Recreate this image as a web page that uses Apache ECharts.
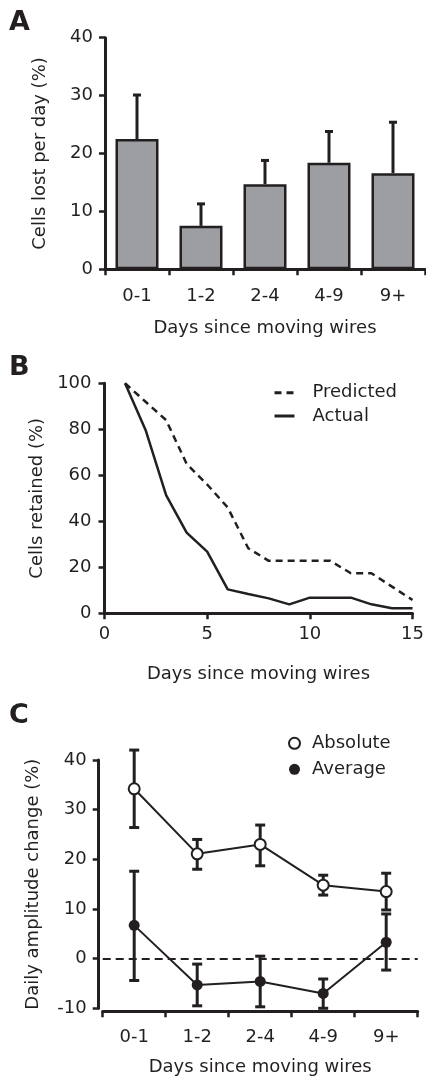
<!DOCTYPE html>
<html>
<head>
<meta charset="utf-8">
<script src="https://cdn.jsdelivr.net/npm/echarts@6/dist/echarts.min.js"></script>
<style>
html,body{margin:0;padding:0;background:#fff;}
#chart{width:426px;height:1079px;}
</style>
</head>
<body>
<div id="chart"></div>
<script>
// ---- Panel A data ----
const binCats = ['0-1', '1-2', '2-4', '4-9', '9+'];
const lostMean = [22.5, 7.5, 14.7, 18.4, 16.6];
const lostUpper = [30.1, 11.3, 18.8, 23.8, 25.4];
const ticksA = [0, 10, 20, 30, 40];

// ---- Panel B data ----
const daysB = [1, 2, 3, 4, 5, 6, 7, 8, 9, 10, 11, 12, 13, 14, 15];
const predicted = [100, 92, 84, 65, 56, 46, 28.3, 22.8, 22.8, 22.8, 22.8, 17.4, 17.4, 11.6, 5.8];
const actual = [100, 79.7, 51.4, 35.1, 26.8, 10.4, 8.4, 6.5, 3.9, 6.8, 6.8, 6.8, 3.9, 2.2, 2.2];

// ---- Panel C data ----
const absMean = [34.2, 21.1, 23.0, 14.8, 13.5];
const absUpper = [42.0, 24.0, 26.9, 16.8, 17.2];
const absLower = [26.4, 18.0, 18.7, 12.8, 9.8];
const avgMean = [6.7, -5.3, -4.6, -7.0, 3.3];
const avgUpper = [17.6, -1.1, 0.5, -4.1, 9.0];
const avgLower = [-4.4, -9.5, -9.7, -10.0, -2.3];

const INK = '#231f20';
const FONT = 'DejaVu Sans';
const FS = 18;

function axisBase(extra) {
  return Object.assign({
    axisLine: { show: true, onZero: false, lineStyle: { color: INK, width: 3 } },
    axisTick: { show: true, length: 6, lineStyle: { color: INK, width: 2.5 } },
    splitLine: { show: false },
    axisLabel: { color: INK, fontSize: FS, fontFamily: FONT },
    nameTextStyle: { color: INK, fontSize: FS, fontFamily: FONT },
    nameLocation: 'middle'
  }, extra);
}

function errRender(capW, lw, withLower) {
  return function (params, api) {
    const x = api.value(0);
    const lo = api.coord([x, api.value(1)]);
    const hi = api.coord([x, api.value(2)]);
    const style = { stroke: INK, lineWidth: lw, fill: null };
    const children = [
      { type: 'line', shape: { x1: lo[0], y1: lo[1], x2: hi[0], y2: hi[1] }, style: style },
      { type: 'line', shape: { x1: hi[0] - capW / 2, y1: hi[1], x2: hi[0] + capW / 2, y2: hi[1] }, style: style }
    ];
    if (withLower) {
      children.push({ type: 'line', shape: { x1: lo[0] - capW / 2, y1: lo[1], x2: lo[0] + capW / 2, y2: lo[1] }, style: style });
    }
    return { type: 'group', children: children };
  };
}

const chart = echarts.init(document.getElementById('chart'), null, { renderer: 'canvas' });

const option = {
  animation: false,
  backgroundColor: '#ffffff',
  textStyle: { fontFamily: FONT, color: INK },
  graphic: [
    { type: 'text', left: 9, top: 9, style: { text: 'A', font: 'bold 27px "DejaVu Sans"', fill: INK } },
    { type: 'text', left: 9, top: 354, style: { text: 'B', font: 'bold 27px "DejaVu Sans"', fill: INK } },
    { type: 'text', left: 9, top: 702, style: { text: 'C', font: 'bold 27px "DejaVu Sans"', fill: INK } }
  ],
  grid: [
    { left: 105, top: 37.7, width: 320, height: 231.6, outerBoundsMode: 'none' },
    { left: 104.5, top: 383.3, width: 308, height: 230, outerBoundsMode: 'none' },
    { left: 102.7, top: 760, width: 315, height: 248.3, outerBoundsMode: 'none' }
  ],
  legend: [
    {
      orient: 'vertical', left: 268, top: 378.7, itemWidth: 20, itemHeight: 14, itemGap: 5.3,
      selectedMode: false, data: ['Predicted', 'Actual'],
      itemStyle: { opacity: 0 },
      lineStyle: { width: 3 },
      textStyle: { color: INK, fontSize: FS, fontFamily: FONT, padding: [0, 0, 0, 13] }
    },
    {
      orient: 'vertical', left: 283, top: 729.3, itemWidth: 11, itemHeight: 11, itemGap: 8,
      selectedMode: false,
      data: [{ name: 'Absolute', icon: 'circle' }, { name: 'Average', icon: 'circle' }],
      textStyle: { color: INK, fontSize: FS, fontFamily: FONT, padding: [0, 0, 0, 7] }
    }
  ],
  xAxis: [
    axisBase({ gridIndex: 0, type: 'category', data: binCats, name: 'Days since moving wires', nameGap: 50,
      axisLabel: { color: INK, fontSize: FS, fontFamily: FONT, margin: 18 } }),
    axisBase({ gridIndex: 1, type: 'value', min: 0, max: 15, interval: 5, name: 'Days since moving wires', nameGap: 52,
      axisLabel: { color: INK, fontSize: FS, fontFamily: FONT, margin: 12 } }),
    axisBase({ gridIndex: 2, type: 'category', data: binCats, name: 'Days since moving wires', nameGap: 47, offset: 3,
      axisLabel: { color: INK, fontSize: FS, fontFamily: FONT, margin: 17 } })
  ],
  yAxis: [
    axisBase({ gridIndex: 0, type: 'value', min: ticksA[0], max: ticksA[ticksA.length - 1], interval: 10,
      name: 'Cells lost per day (%)', nameGap: 56,
      axisLabel: { color: INK, fontSize: FS, fontFamily: FONT, margin: 12 } }),
    axisBase({ gridIndex: 1, type: 'value', min: 0, max: 100, interval: 20,
      name: 'Cells retained (%)', nameGap: 55,
      axisLabel: { color: INK, fontSize: FS, fontFamily: FONT, margin: 13 } }),
    axisBase({ gridIndex: 2, type: 'value', min: -10, max: 40, interval: 10, offset: 4,
      name: 'Daily amplitude change (%)', nameGap: 56,
      axisLabel: { color: INK, fontSize: FS, fontFamily: FONT, margin: 12 } })
  ],
  series: [
    // Panel A
    {
      name: 'Cells lost', type: 'bar', xAxisIndex: 0, yAxisIndex: 0, data: lostMean, barWidth: 43,
      itemStyle: { color: '#9d9ea2', borderColor: INK, borderWidth: 2.5 }, z: 3
    },
    {
      name: 'Cells lost error', type: 'custom', xAxisIndex: 0, yAxisIndex: 0, z: 2,
      renderItem: errRender(8, 3, false),
      encode: { x: 0, y: [1, 2] },
      data: lostMean.map(function (m, i) { return [i, m, lostUpper[i]]; })
    },
    // Panel B
    {
      name: 'Predicted', type: 'line', xAxisIndex: 1, yAxisIndex: 1, showSymbol: false, symbol: 'none',
      data: daysB.map(function (d, i) { return [d, predicted[i]]; }),
      lineStyle: { color: INK, width: 2.5, type: [7, 5] }, itemStyle: { color: INK }
    },
    {
      name: 'Actual', type: 'line', xAxisIndex: 1, yAxisIndex: 1, showSymbol: false, symbol: 'none',
      data: daysB.map(function (d, i) { return [d, actual[i]]; }),
      lineStyle: { color: INK, width: 2.5 }, itemStyle: { color: INK }
    },
    // Panel C
    {
      name: 'Absolute error', type: 'custom', xAxisIndex: 2, yAxisIndex: 2, z: 2,
      renderItem: errRender(10, 3, true),
      encode: { x: 0, y: [1, 2] },
      data: absMean.map(function (m, i) { return [i, absLower[i], absUpper[i]]; })
    },
    {
      name: 'Average error', type: 'custom', xAxisIndex: 2, yAxisIndex: 2, z: 2,
      renderItem: errRender(10, 3, true),
      encode: { x: 0, y: [1, 2] },
      data: avgMean.map(function (m, i) { return [i, avgLower[i], avgUpper[i]]; })
    },
    {
      name: 'Absolute', type: 'line', xAxisIndex: 2, yAxisIndex: 2, data: absMean, z: 4,
      symbol: 'circle', symbolSize: 11,
      lineStyle: { color: INK, width: 2 },
      itemStyle: { color: '#ffffff', borderColor: INK, borderWidth: 2 }
    },
    {
      name: 'Average', type: 'line', xAxisIndex: 2, yAxisIndex: 2, data: avgMean, z: 4,
      symbol: 'circle', symbolSize: 11,
      lineStyle: { color: INK, width: 2 },
      itemStyle: { color: INK, borderColor: INK, borderWidth: 0 },
      markLine: {
        silent: true, symbol: ['none', 'none'], label: { show: false },
        lineStyle: { color: INK, width: 2, type: [8, 5] },
        data: [{ yAxis: 0 }]
      }
    }
  ]
};
chart.setOption(option);
</script>
</body>
</html>
